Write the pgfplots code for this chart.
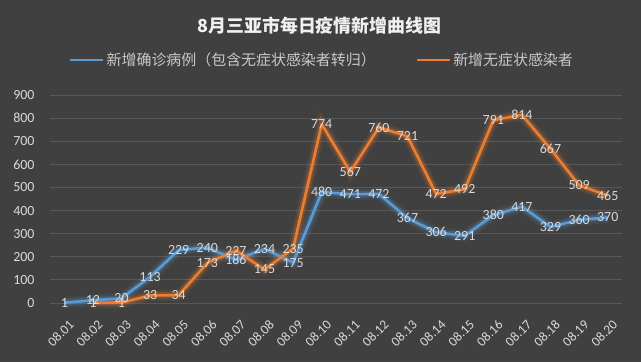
\documentclass[border=0pt]{standalone}
\usepackage{pgfplots}
\pgfplotsset{compat=1.18}
\usepackage{fontspec}
\setmainfont{Carlito}
\newfontfamily\cjk{Noto Sans CJK SC}
\definecolor{bg}{HTML}{404040}
\definecolor{gridc}{HTML}{575757}
\definecolor{lab}{HTML}{D9D9D9}
\definecolor{legc}{HTML}{C8C8C8}
\definecolor{titlec}{HTML}{F0F0F0}
\definecolor{blueL}{HTML}{5B9BD5}
\definecolor{orangeL}{HTML}{ED7D31}
\pgfplotstableread{
x y
1 1
2 12
3 20
4 113
5 229
6 240
7 186
8 234
9 175
10 480
11 471
12 472
13 367
14 306
15 291
16 380
17 417
18 329
19 360
20 370
}\confirmed
\pgfplotstableread{
x y
2 1
3 1
4 33
5 34
6 173
7 227
8 145
9 235
10 774
11 567
12 760
13 721
14 472
15 492
16 791
17 814
18 667
19 509
20 465
}\asym
\begin{document}
\begin{tikzpicture}[x=1bp,y=1bp]
\fill[bg] (0,0) rectangle (641,362);
\node[font=\cjk\bfseries\fontsize{18}{20}\selectfont, text=titlec] at (319.5,336) {8月三亚市每日疫情新增曲线图};
\begin{axis}[
  at={(50bp,59bp)}, anchor=south west, scale only axis,
  width=572bp, height=208bp,
  xmin=0.5, xmax=20.5, ymin=0, ymax=900,
  ytick={0,100,...,900},
  xtick={1,...,20},
  xticklabels={08.01,08.02,08.03,08.04,08.05,08.06,08.07,08.08,08.09,08.10,08.11,08.12,08.13,08.14,08.15,08.16,08.17,08.18,08.19,08.20},
  tick label style={text=lab, font=\fontsize{14}{16}\selectfont},
  x tick label style={xshift=4bp, yshift=-16bp, rotate=45, anchor=north east, inner sep=0bp, font=\fontsize{13.5}{15}\selectfont},
  y tick label style={xshift=-12bp},
  /pgf/number format/assume math mode=true,
  ymajorgrids, grid style={gridc, line width=0.8bp},
  axis line style={draw=none}, major tick style={draw=none},
  clip=false,
  legend columns=2,
  legend style={at={(0.4755,1.168)}, anchor=center, draw=none, fill=none,
    text=legc, font=\cjk\fontsize{15}{17}\selectfont,
    /tikz/every even column/.append style={column sep=38bp}},
  legend image code/.code={\draw[#1] (0bp,0bp) -- (33bp,0bp);},
  nodes near coords,
  every node near coord/.append style={anchor=center, text=lab, font=\fontsize{14}{16}\selectfont, inner sep=0pt},
]
\addplot[blueL, line width=11bp, opacity=0.10, forget plot, nodes near coords=] table {\confirmed};
\addplot[blueL, line width=6.5bp, opacity=0.22, forget plot, nodes near coords=] table {\confirmed};
\addplot[orangeL, line width=11bp, opacity=0.10, forget plot, nodes near coords=] table {\asym};
\addplot[orangeL, line width=6.5bp, opacity=0.22, forget plot, nodes near coords=] table {\asym};
\addplot[blueL, line width=2.6bp, line join=round] table {\confirmed};
\addlegendentry{新增确诊病例（包含无症状感染者转归）}
\addplot[orangeL, line width=2.6bp, line join=round] table {\asym};
\addlegendentry{新增无症状感染者}
\end{axis}
\end{tikzpicture}
\end{document}
